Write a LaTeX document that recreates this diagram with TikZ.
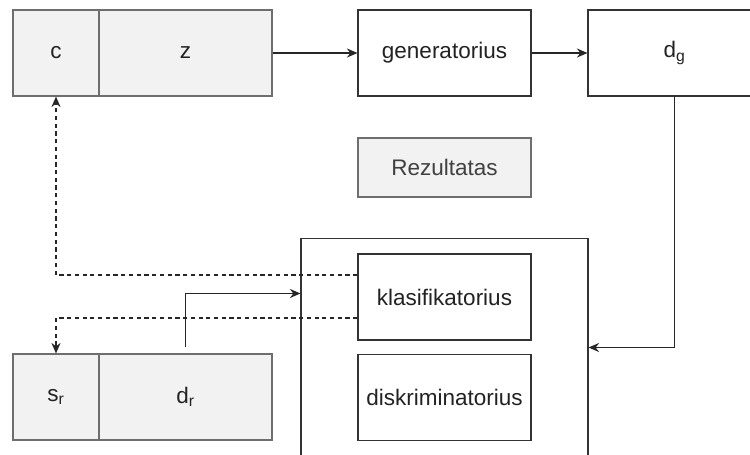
\documentclass[tikz,border=0pt]{standalone}
\usepackage{fontspec}
\setmainfont{Liberation Sans}
\usetikzlibrary{arrows.meta}
\definecolor{boxgray}{HTML}{F2F2F2}
\definecolor{linegray}{HTML}{6E6E6E}
\definecolor{textdark}{HTML}{222222}

\begin{document}
\begin{tikzpicture}[x={(0.025cm,0)},y={(0,-0.025cm)},
    blk/.style={draw=black!80, line width=0.8pt, minimum width=4.325cm, minimum height=2.15cm,
      inner sep=0pt, text=textdark, font=\fontsize{16}{19}\selectfont},
    gblk/.style={blk, draw=linegray, fill=boxgray},
    sq/.style={gblk, minimum width=2.15cm},
    conn/.style={line width=0.8pt, black!85, -{Stealth[length=7.5pt,width=6.5pt,inset=2.5pt]}},
    dconn/.style={conn, dash pattern=on 3pt off 2.5pt}]
        \clip (0,0) rectangle (750,454);

        % upper row
        \node[sq](c) at (56,53){c};
        \node[gblk](z) at (185.5,53){z};
        \node[blk](gen) at (444.5,53){generatorius};
        \node[blk](dg) at (674.5,53){d\textsubscript{g}};

        \node[gblk, minimum height=1.475cm, text=black!75](rez) at (444.5,167.5){Rezultatas};

        % lower part
        \node[blk, minimum width=7.175cm, minimum height=5.45cm](outer) at (444.5,347.5){};
        \node[blk](klas) at (444.5,297){klasifikatorius};
        \node[blk](disk) at (444.5,397.5){diskriminatorius};

        \node[sq](sr) at (56,397){s\textsubscript{r}};
        \node[gblk](dr) at (185.5,397){d\textsubscript{r}};

        \draw[conn] (z) -- (gen);
        \draw[conn] (gen) -- (dg);
        \draw[conn] (dg) |- (outer);
        \draw[conn] ([yshift=0.15cm]dr.north) |- ([yshift=1.35cm]outer.west);
        \draw[dconn] ([yshift=0.55cm]klas.west) -| (c);
        \draw[dconn] ([yshift=-0.525cm]klas.west) -| (sr);

      \end{tikzpicture}
\end{document}
